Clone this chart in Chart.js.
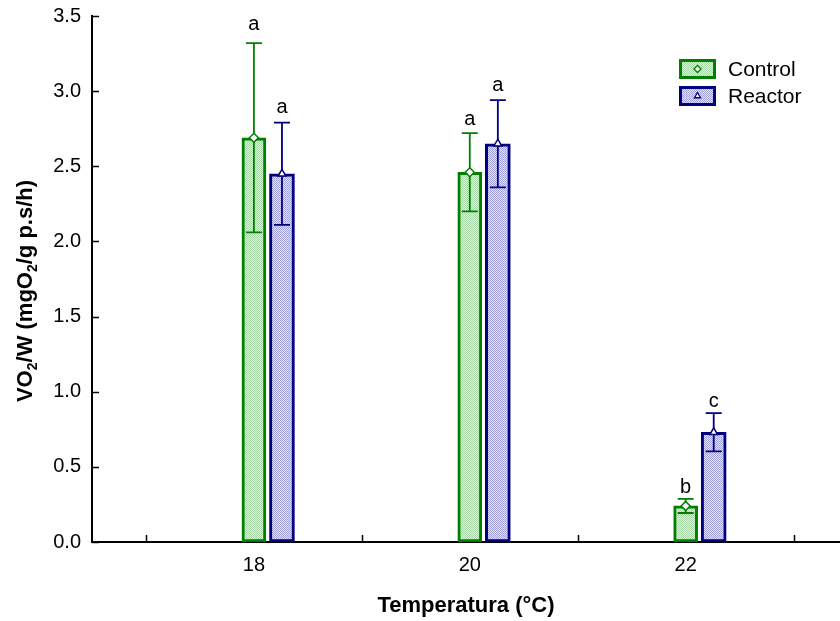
<!DOCTYPE html>
<html>
<head>
<meta charset="utf-8">
<script src="https://cdn.jsdelivr.net/npm/chart.js@4.4.0/dist/chart.umd.min.js"></script>
<style>
  html, body { margin: 0; padding: 0; background: #fff; }
  #wrap { width: 840px; height: 621px; }
</style>
</head>
<body>
<div id="wrap"><canvas id="vo2Chart" width="840" height="621"></canvas></div>
<script>
// Oxygen consumption per gram at each temperature
const temperatures = [18, 20, 22];
const controlMeans = [2.69, 2.46, 0.24];
const controlErrors = [0.63, 0.26, 0.047];
const controlLetters = ['a', 'a', 'b'];
const reactorMeans = [2.45, 2.65, 0.73];
const reactorErrors = [0.34, 0.29, 0.127];
const reactorLetters = ['a', 'a', 'c'];
const seriesNames = ['Control', 'Reactor'];

// layout bits
const reactorShift = 0.26;
const FONT = '"Liberation Sans", Arial, sans-serif';
const GREEN = '#008000';
const NAVY = '#000080';

Chart.defaults.font.family = FONT;
Chart.defaults.color = '#000';

// small dithered fills like the old stats package draws
function makePattern(c1, c2) {
    const cv = document.createElement('canvas');
    cv.width = 2; cv.height = 2;
    const g = cv.getContext('2d');
    g.fillStyle = c1; g.fillRect(0, 0, 2, 2);
    g.fillStyle = c2; g.fillRect(0, 0, 1, 1); g.fillRect(1, 1, 1, 1);
    return g.createPattern(cv, 'repeat');
}
const greenFill = makePattern('#e2f2e2', '#a6d6a6');
const blueFill = makePattern('#e2e2f4', '#a2a2d8');

const controlPoints = temperatures.map((t, i) => ({ x: t, y: controlMeans[i] }));
const reactorPoints = temperatures.map((t, i) => ({ x: t + reactorShift, y: reactorMeans[i] }));

// inward tick marks on both axes
const innerTicks = {
    id: 'innerTicks',
    beforeDatasetsDraw(chart) {
        const { ctx, chartArea, scales } = chart;
        ctx.save();
        ctx.strokeStyle = '#000';
        ctx.lineWidth = 1.5;
        scales.y.ticks.forEach(t => {
            const y = Math.round(scales.y.getPixelForValue(t.value)) + 0.5;
            ctx.beginPath();
            ctx.moveTo(chartArea.left, y);
            ctx.lineTo(chartArea.left + 7, y);
            ctx.stroke();
        });
        scales.x.ticks.forEach(t => {
            const x = Math.round(scales.x.getPixelForValue(t.value)) + 0.5;
            ctx.beginPath();
            ctx.moveTo(x, chartArea.bottom);
            ctx.lineTo(x, chartArea.bottom - 7);
            ctx.stroke();
        });
        ctx.restore();
    }
};

// error bars and significance letters over each bar
const errorBars = {
    id: 'errorBars',
    afterDatasetDraw(chart, args) {
        const ds = chart.data.datasets[args.index];
        if (!ds.errors) return;
        const { ctx } = chart;
        const y = chart.scales.y;
        ctx.save();
        ctx.strokeStyle = ds.borderColor;
        ctx.lineWidth = 1.8;
        args.meta.data.forEach((bar, i) => {
            const v = ds.data[i].y;
            const top = y.getPixelForValue(v + ds.errors[i]);
            const bot = y.getPixelForValue(v - ds.errors[i]);
            ctx.beginPath();
            ctx.moveTo(bar.x, top);
            ctx.lineTo(bar.x, bot);
            ctx.moveTo(bar.x - 8, top);
            ctx.lineTo(bar.x + 8, top);
            ctx.moveTo(bar.x - 8, bot);
            ctx.lineTo(bar.x + 8, bot);
            ctx.stroke();
            // letters sit a little higher over the longer whiskers
            ctx.fillStyle = '#000';
            ctx.font = '20px ' + FONT;
            ctx.textAlign = 'center';
            ctx.textBaseline = 'alphabetic';
            ctx.fillText(ds.letters[i], bar.x, top - 5 - (bot - top) / 23);
        });
        ctx.restore();
    }
};

// y title with subscripts, rotated
const yTitle = {
    id: 'yTitle',
    afterDraw(chart) {
        const { ctx } = chart;
        const parts = [
            { t: 'VO' }, { t: '2', sub: true }, { t: '/W (mgO' }, { t: '2', sub: true }, { t: '/g p.s/h)' }
        ];
        const big = 'bold 22px ' + FONT;
        const small = 'bold 14px ' + FONT;
        ctx.save();
        let total = 0;
        parts.forEach(p => { ctx.font = p.sub ? small : big; p.w = ctx.measureText(p.t).width; total += p.w; });
        ctx.translate(32, 291);
        ctx.rotate(-Math.PI / 2);
        ctx.fillStyle = '#000';
        ctx.textBaseline = 'alphabetic';
        ctx.textAlign = 'left';
        let x = -total / 2;
        parts.forEach(p => {
            ctx.font = p.sub ? small : big;
            ctx.fillText(p.t, x, p.sub ? 5 : 0);
            x += p.w;
        });
        ctx.restore();
    }
};

// legend box in the upper right of the plot
const boxLegend = {
    id: 'boxLegend',
    afterDraw(chart) {
        const { ctx } = chart;
        const rows = [
            { name: seriesNames[0], fill: greenFill, stroke: GREEN, mark: 'rectRot' },
            { name: seriesNames[1], fill: blueFill, stroke: NAVY, mark: 'triangle' }
        ];
        ctx.save();
        rows.forEach((r, i) => {
            const bx = 679, by = 59 + i * 27, bw = 37, bh = 20;
            ctx.fillStyle = r.fill;
            ctx.fillRect(bx, by, bw, bh);
            ctx.strokeStyle = r.stroke;
            ctx.lineWidth = 3;
            ctx.strokeRect(bx + 1.5, by + 1.5, bw - 3, bh - 3);
            ctx.fillStyle = '#fff';
            ctx.lineWidth = 1.3;
            Chart.helpers.drawPoint(ctx, { pointStyle: r.mark, radius: 3.5, borderWidth: 1.3 }, bx + bw / 2, by + bh / 2);
            ctx.fillStyle = '#000';
            ctx.font = '21px ' + FONT;
            ctx.textBaseline = 'middle';
            ctx.textAlign = 'left';
            ctx.fillText(r.name, 728, by + bh / 2 + 1);
        });
        ctx.restore();
    }
};

new Chart(document.getElementById('vo2Chart'), {
    type: 'bar',
    data: {
        datasets: [
            {
                label: seriesNames[0], data: controlPoints,
                backgroundColor: greenFill, borderColor: GREEN, borderWidth: 3, borderSkipped: false,
                barThickness: 24, grouped: false, order: 3,
                errors: controlErrors, letters: controlLetters
            },
            {
                label: seriesNames[1], data: reactorPoints,
                backgroundColor: blueFill, borderColor: NAVY, borderWidth: 3, borderSkipped: false,
                barThickness: 25, grouped: false, order: 3,
                errors: reactorErrors, letters: reactorLetters
            },
            {
                type: 'line', label: seriesNames[0] + ' mean', data: controlPoints, showLine: false,
                pointStyle: 'rectRot', pointRadius: 4.5, pointBackgroundColor: '#fff',
                pointBorderColor: GREEN, pointBorderWidth: 1.5, order: 1
            },
            {
                type: 'line', label: seriesNames[1] + ' mean', data: reactorPoints, showLine: false,
                pointStyle: 'triangle', pointRadius: 4.5, pointBackgroundColor: '#fff',
                pointBorderColor: NAVY, pointBorderWidth: 1.5, order: 1
            }
        ]
    },
    options: {
        responsive: false,
        animation: false,
        layout: { autoPadding: false, padding: { top: 16, right: 0, bottom: 0, left: 0 } },
        plugins: { legend: { display: false }, tooltip: { enabled: false } },
        scales: {
            x: {
                type: 'linear', min: 16.5, max: 23.43, offset: false,
                afterFit: s => { s.height = 79; s.paddingLeft = 0; s.paddingRight = 0; },
                border: { color: '#000', width: 2 },
                grid: { display: false, drawTicks: false, offset: false },
                ticks: {
                    stepSize: 1, includeBounds: false, autoSkip: false, maxRotation: 0,
                    padding: 11, font: { size: 20 },
                    callback: v => (v % 2 === 0 ? String(v) : '')
                },
                title: {
                    display: true, text: 'Temperatura (°C)',
                    font: { size: 22, weight: 'bold' }, padding: { top: 0, bottom: 2 }
                }
            },
            y: {
                min: 0, max: 3.5,
                afterFit: s => { s.width = 92; s.paddingTop = 0; s.paddingBottom = 0; },
                border: { color: '#000', width: 2 },
                grid: { display: false, drawTicks: false },
                ticks: { stepSize: 0.5, padding: 11, font: { size: 20 }, callback: v => v.toFixed(1) },
                title: { display: false }
            }
        }
    },
    plugins: [innerTicks, errorBars, yTitle, boxLegend]
});
</script>
</body>
</html>
